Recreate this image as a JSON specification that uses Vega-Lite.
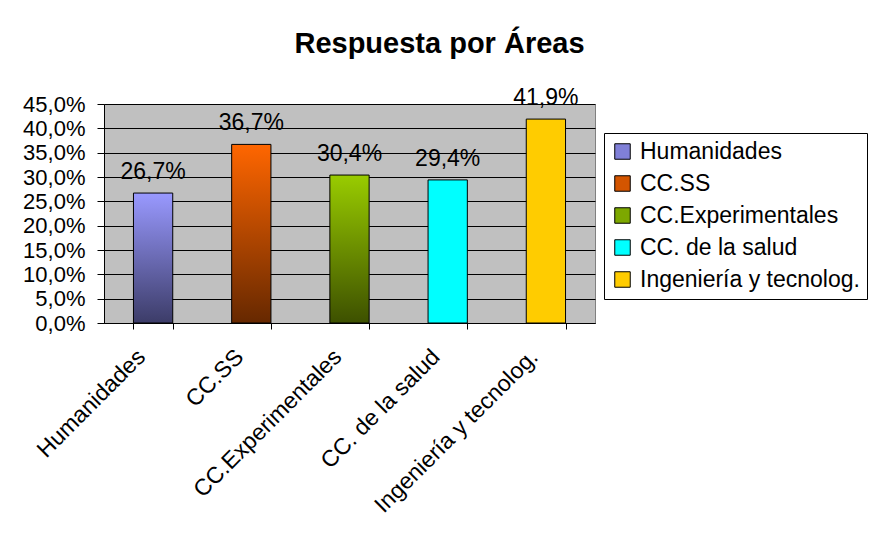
{
  "$schema": "https://vega.github.io/schema/vega-lite/v6.json",
  "width": 491,
  "height": 219,
  "autosize": {"type": "none"},
  "padding": {"left": 104, "top": 104, "right": 277, "bottom": 215},
  "background": "white",
  "title": {
    "text": "Respuesta por Áreas",
    "font": "Liberation Sans",
    "fontSize": 29,
    "fontWeight": "bold",
    "color": "black",
    "anchor": "middle",
    "frame": "group",
    "dx": 90,
    "baseline": "alphabetic",
    "offset": 5
  },
  "config": {
    "locale": {"number": {"decimal": ",", "thousands": ".", "grouping": [3], "currency": ["", " €"]}},
    "font": "Liberation Sans",
    "view": {"fill": "#C0C0C0", "stroke": "#808080", "strokeWidth": 1}
  },
  "data": {
    "values": [
      {"area": "Humanidades", "v": 0.267},
      {"area": "CC.SS", "v": 0.367},
      {"area": "CC.Experimentales", "v": 0.304},
      {"area": "CC. de la salud", "v": 0.294},
      {"area": "Ingeniería y tecnolog.", "v": 0.419}
    ]
  },
  "encoding": {
    "x": {
      "field": "area",
      "type": "nominal",
      "sort": null,
      "scale": {"paddingInner": 0.6, "paddingOuter": 0.3},
      "axis": {
        "title": null,
        "labelAngle": -45,
        "labelAlign": "right",
        "labelBaseline": "middle",
        "labelPadding": 24,
        "labelOffset": -12,
        "labelLimit": 400,
        "tickBand": "extent",
        "grid": false,
        "domainColor": "black",
        "tickColor": "black",
        "tickSize": 6,
        "labelFontSize": 23,
        "labelColor": "black",
        "labelFont": "Liberation Sans"
      }
    },
    "y": {
      "field": "v",
      "type": "quantitative",
      "scale": {"domain": [0, 0.45], "nice": false},
      "axis": {
        "title": null,
        "values": [0, 0.05, 0.1, 0.15, 0.2, 0.25, 0.3, 0.35, 0.4, 0.45],
        "format": ".1%",
        "grid": true,
        "gridColor": "black",
        "gridOpacity": 1,
        "domainColor": "black",
        "tickColor": "black",
        "tickSize": 7,
        "labelPadding": 12,
        "labelFontSize": 22,
        "labelColor": "black",
        "labelFont": "Liberation Sans"
      }
    }
  },
  "layer": [
    {
      "mark": {"type": "bar", "stroke": "black", "strokeWidth": 1},
      "encoding": {
        "fill": {
          "field": "area",
          "type": "nominal",
          "sort": null,
          "condition": [
            {"test": "datum.area === 'Humanidades'", "value": {"gradient": "linear", "x1": 0, "y1": 0, "x2": 0, "y2": 1, "stops": [{"offset": 0, "color": "#9999FF"}, {"offset": 1, "color": "#3C3C68"}]}},
            {"test": "datum.area === 'CC.SS'", "value": {"gradient": "linear", "x1": 0, "y1": 0, "x2": 0, "y2": 1, "stops": [{"offset": 0, "color": "#FF6600"}, {"offset": 1, "color": "#662800"}]}},
            {"test": "datum.area === 'CC.Experimentales'", "value": {"gradient": "linear", "x1": 0, "y1": 0, "x2": 0, "y2": 1, "stops": [{"offset": 0, "color": "#99CC00"}, {"offset": 1, "color": "#3D5000"}]}}
          ],
          "scale": {
            "domain": ["Humanidades", "CC.SS", "CC.Experimentales", "CC. de la salud", "Ingeniería y tecnolog."],
            "range": ["#8080D8", "#D45500", "#7DA800", "#00FFFF", "#FFCC00"]
          },
          "legend": {
            "title": null,
            "orient": "none",
            "legendX": 500,
            "legendY": 29,
            "strokeColor": "black",
            "fillColor": "white",
            "padding": 7,
            "labelFontSize": 23,
            "labelColor": "black",
            "labelFont": "Liberation Sans",
            "labelLimit": 400,
            "symbolType": "square",
            "symbolSize": 240,
            "symbolStrokeColor": "black",
            "symbolStrokeWidth": 1,
            "symbolOpacity": 1,
            "rowPadding": 8,
            "labelOffset": 6
          }
        }
      }
    },
    {
      "mark": {"type": "text", "dy": -14, "baseline": "alphabetic", "fontSize": 23, "color": "black", "font": "Liberation Sans"},
      "encoding": {
        "text": {"field": "v", "type": "quantitative", "format": ".1%"}
      }
    }
  ]
}
